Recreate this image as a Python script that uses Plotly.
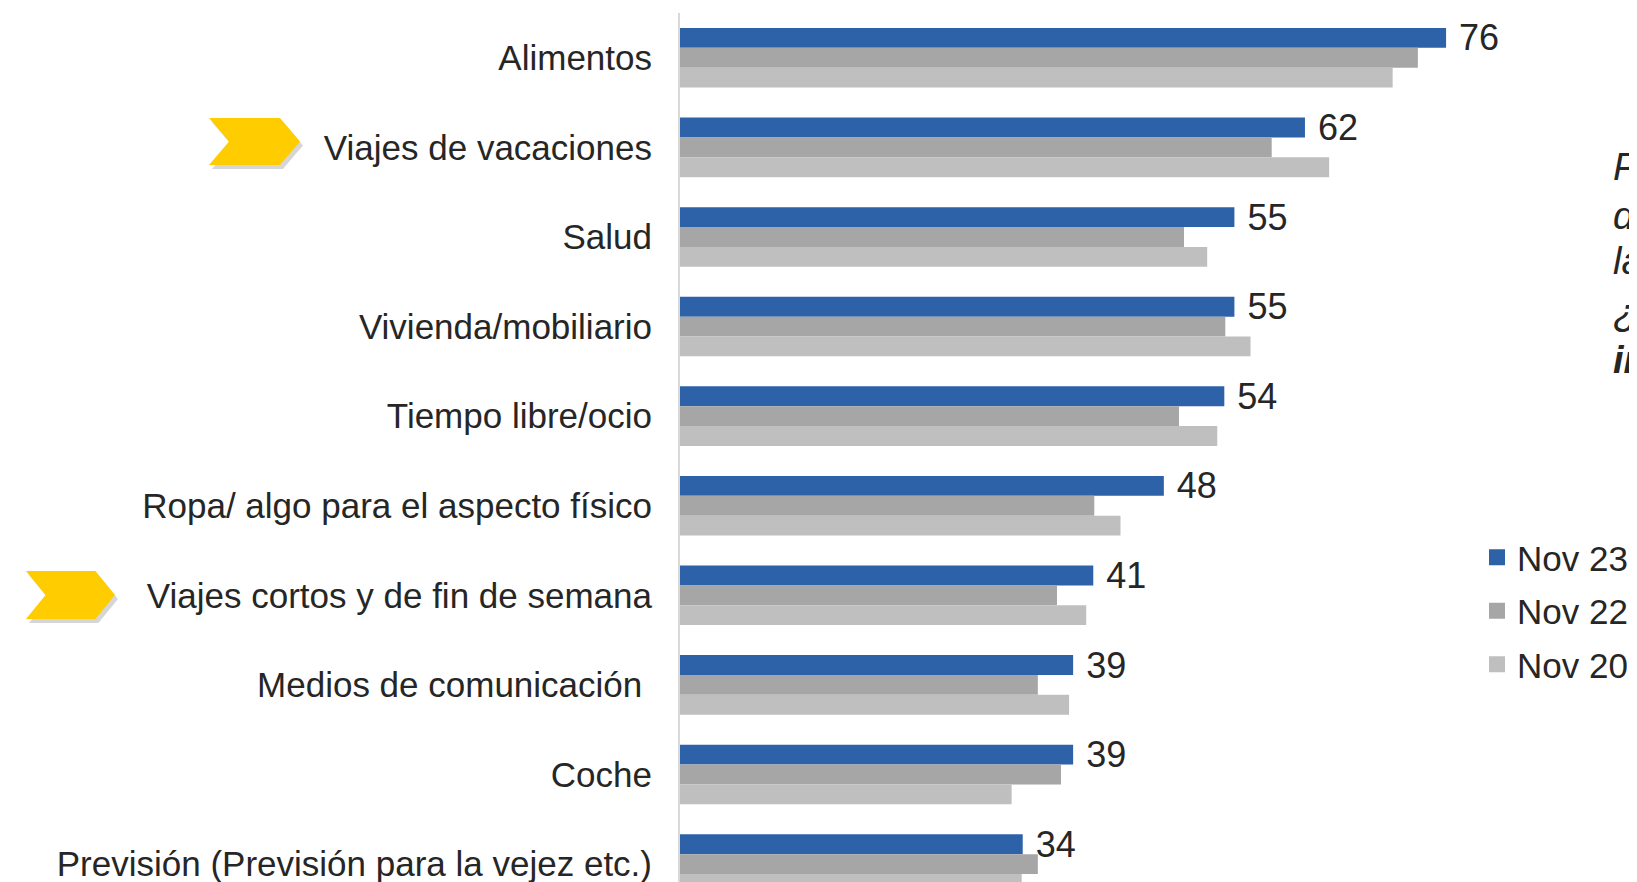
import plotly.graph_objects as go

categories = [
    "Alimentos",
    "Viajes de vacaciones",
    "Salud",
    "Vivienda/mobiliario",
    "Tiempo libre/ocio",
    "Ropa/ algo para el aspecto físico",
    "Viajes cortos y de fin de semana",
    "Medios de comunicación\u00a0",
    "Coche",
    "Previsión (Previsión para la vejez etc.)",
]
nov23 = [76, 62, 55, 55, 54, 48, 41, 39, 39, 34]
nov22 = [73.2, 58.7, 50.0, 54.1, 49.5, 41.1, 37.4, 35.5, 37.8, 35.5]
nov20 = [70.7, 64.4, 52.3, 56.6, 53.3, 43.7, 40.3, 38.6, 32.9, 33.9]
series_names = ["Nov 23", "Nov 22", "Nov 20"]
colors = ["#2D62A9", "#A6A6A6", "#BFBFBF"]

FONT = "Liberation Sans, Arial, sans-serif"
# the page body adds an 8px margin; size the figure to the visible window
OFF = 8
W, H = 1637 - OFF, 882 - OFF
ML, MT = 680 - OFF, 13 - OFF
PW, PH = W - ML, H - MT

fig = go.Figure()
for name, vals, col in zip(series_names, [nov23, nov22, nov20], colors):
    is_main = name == "Nov 23"
    fig.add_trace(go.Bar(
        y=categories, x=vals, name=name, orientation="h",
        marker=dict(color=col, line=dict(width=0)),
        text=vals if is_main else None,
        texttemplate="\u00a0%{x}" if is_main else None,
        textposition="outside" if is_main else "none",
        textfont=dict(family=FONT, size=36, color="#262626"),
        cliponaxis=False,
        constraintext="none",
        showlegend=False,
        legendgroup=name,
        hoverinfo="x+y+name",
    ))
# legend entries with larger square swatches
for name, col in zip(series_names, colors):
    fig.add_trace(go.Scatter(
        x=[None], y=[None], mode="markers", name=name, legendgroup=name,
        marker=dict(symbol="square", size=18, color=col),
        showlegend=True, hoverinfo="skip",
    ))


def px2paper(sx, sy):
    """screen pixel -> paper coordinates"""
    x, y = sx - OFF, sy - OFF
    return (x - ML) / PW, 1 - (y - MT) / PH


def chevron(x0, y0, x1, y1):
    pts = [(0, 0), (0.78, 0), (1, 0.5), (0.78, 1), (0, 1), (0.22, 0.5)]
    out = []
    for i, (u, v) in enumerate(pts):
        px, py = px2paper(x0 + u * (x1 - x0), y0 + v * (y1 - y0))
        out.append(("M" if i == 0 else "L") + f"{px:.5f},{py:.5f}")
    return " ".join(out) + " Z"


shapes = []
for (x0, y0, x1, y1) in [(209, 118, 300, 165), (26, 571, 115, 619)]:
    shapes.append(dict(type="path", xref="paper", yref="paper",
                       path=chevron(x0 + 3, y0 + 4, x1 + 3, y1 + 4),
                       fillcolor="rgba(0,0,0,0.16)", line=dict(width=0), layer="above"))
    shapes.append(dict(type="path", xref="paper", yref="paper",
                       path=chevron(x0, y0, x1, y1),
                       fillcolor="#FFCC00", line=dict(width=0), layer="above"))

side_lines = [
    ("<i>Pregunta: ¿En qué</i>", 167),
    ("<i>de los siguientes ámbitos</i>", 216),
    ("<i>las personas gastan?</i>", 261),
    ("<i>¿Qué es lo más</i>", 313),
    ("<b><i>importante?</i></b>", 360),
]
annotations = []
for txt, py in side_lines:
    ax, ay = px2paper(1611, py)
    annotations.append(dict(text=txt, xref="paper", yref="paper", x=ax, y=ay,
                            xanchor="left", yanchor="middle", showarrow=False,
                            font=dict(family=FONT, size=38, color="#262626")))

lx, ly = px2paper(1477, 528)
fig.update_layout(
    width=W, height=H,
    margin=dict(l=ML, r=0, t=MT, b=0, pad=0, autoexpand=False),
    paper_bgcolor="white", plot_bgcolor="white",
    barmode="group", bargap=0.335, bargroupgap=0,
    font=dict(family=FONT, size=35, color="#262626"),
    xaxis=dict(range=[0, PW / 10.08], visible=False, fixedrange=True, automargin=False),
    yaxis=dict(
        autorange=False, range=[9.2, -0.5], type="category", automargin=False,
        showline=True, linecolor="#D9D9D9", linewidth=2,
        showgrid=False, ticks="", ticklabelstandoff=19,
        tickfont=dict(family=FONT, size=35, color="#262626"),
    ),
    legend=dict(x=lx, y=ly, xanchor="left", yanchor="top",
                font=dict(family=FONT, size=35, color="#262626"),
                bgcolor="rgba(0,0,0,0)", traceorder="grouped", tracegroupgap=5,
                itemwidth=30),
    shapes=shapes,
    annotations=annotations,
    showlegend=True,
)

fig.write_html("out.html")
